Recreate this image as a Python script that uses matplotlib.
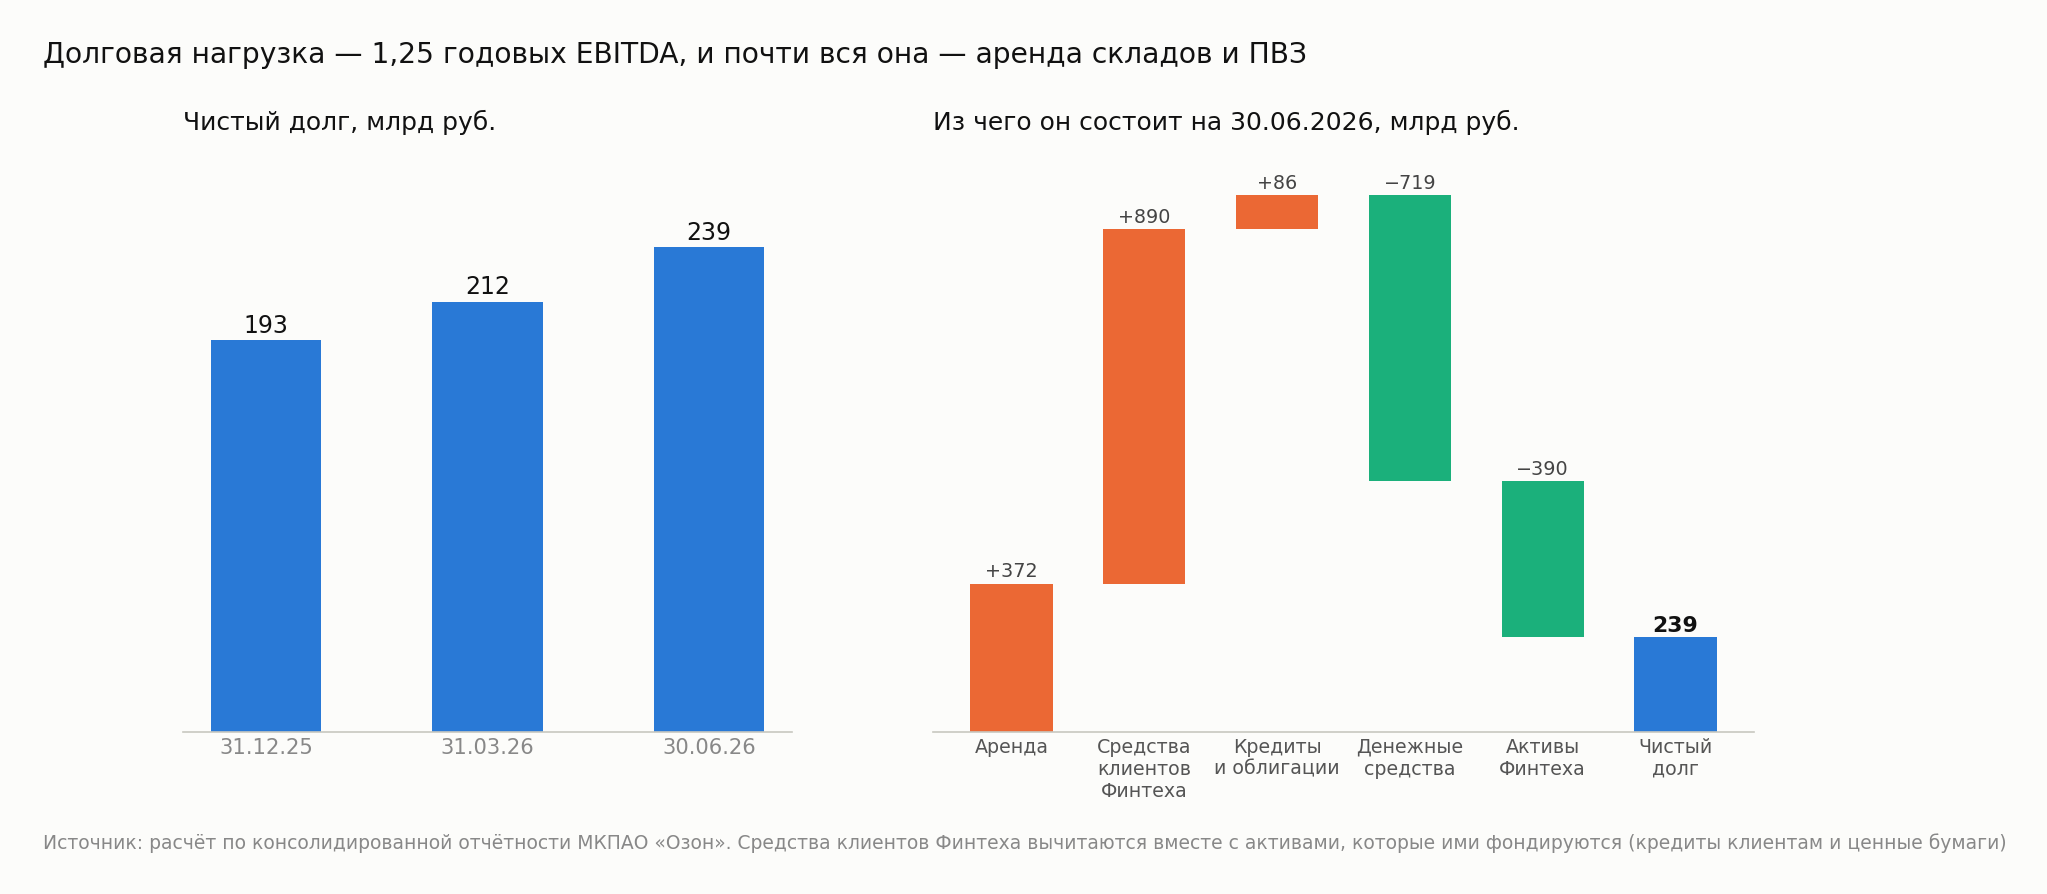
import numpy as np
import matplotlib
matplotlib.use('Agg')
import matplotlib.pyplot as plt

# --- data -------------------------------------------------------------------
TITLE = 'Долговая нагрузка — 1,25 годовых EBITDA, и почти вся она — аренда складов и ПВЗ'
FOOTNOTE = ('Источник: расчёт по консолидированной отчётности МКПАО «Озон». Средства клиентов '
            'Финтеха вычитаются вместе с активами, которые ими фондируются (кредиты клиентам и ценные бумаги)')

debt_dates = ['31.12.25', '31.03.26', '30.06.26']
debt_values = [193, 212, 239]

wf_labels = ['Аренда', 'Средства\nклиентов\nФинтеха', 'Кредиты\nи облигации',
             'Денежные\nсредства', 'Активы\nФинтеха', 'Чистый\nдолг']
wf_deltas = [372, 890, 86, -719, -390]
wf_total = 239

BLUE = '#2979d6'
ORANGE = '#eb6834'
GREEN = '#1bb07b'
BG = '#fcfcfa'
SPINE = '#c8c8c0'

plt.rcParams['font.family'] = ['DejaVu Sans']

DPI = 120
W, H = 2047, 894
fig = plt.figure(figsize=(W / DPI, H / DPI), dpi=DPI, facecolor=BG)


def px_axes(x0, x1, top, bottom):
    return fig.add_axes([x0 / W, 1 - bottom / H, (x1 - x0) / W, (bottom - top) / H])


def clean(ax):
    ax.set_facecolor(BG)
    for s in ['top', 'right', 'left']:
        ax.spines[s].set_visible(False)
    ax.spines['bottom'].set_color(SPINE)
    ax.spines['bottom'].set_linewidth(1.0)
    ax.set_yticks([])
    ax.tick_params(axis='x', length=0, pad=3.5)


# --- left: net debt by quarter ---------------------------------------------
ax1 = px_axes(183, 792, 160, 731.7)
clean(ax1)
x = np.arange(len(debt_values))
bars = ax1.bar(x, debt_values, width=0.5, color=BLUE)
ax1.set_ylim(0, 282)
ax1.set_xticks(x, debt_dates)
ax1.tick_params(axis='x', labelsize=12.7, labelcolor='#888888')
for b, v in zip(bars, debt_values):
    ax1.annotate(f'{v}', (b.get_x() + b.get_width() / 2, v), xytext=(0, 1.5),
                 textcoords='offset points', ha='center', va='bottom',
                 fontsize=14.2, color='#111111')
ax1.set_title('Чистый долг, млрд руб.', loc='left', fontsize=15, pad=18, color='#111111')

# --- right: waterfall -------------------------------------------------------
ax2 = px_axes(933, 1754, 160, 731.7)
clean(ax2)
levels = np.concatenate([[0], np.cumsum(wf_deltas)])
bottoms = list(np.minimum(levels[:-1], levels[1:])) + [0]
heights = list(np.abs(wf_deltas)) + [wf_total]
colors = [ORANGE if d > 0 else GREEN for d in wf_deltas] + [BLUE]
xw = np.arange(len(wf_labels))
wbars = ax2.bar(xw, heights, bottom=bottoms, width=0.62, color=colors)
ax2.set_ylim(0, 1436)
ax2.set_xticks(xw, wf_labels)
ax2.tick_params(axis='x', labelsize=11.4, labelcolor='#555555')

for i, b in enumerate(wbars):
    top = b.get_y() + b.get_height()
    xc = b.get_x() + b.get_width() / 2
    if i < len(wf_deltas):
        d = wf_deltas[i]
        txt = f'+{d}' if d > 0 else f'\u2212{abs(d)}'
        ax2.annotate(txt, (xc, top), xytext=(0, 1.5), textcoords='offset points',
                     ha='center', va='bottom', fontsize=11.5, color='#444444')
    else:
        ax2.annotate(f'{wf_total}', (xc, top), xytext=(0, 0.5), textcoords='offset points',
                     ha='center', va='bottom', fontsize=13.2, fontweight='bold', color='#111111')
ax2.set_title('Из чего он состоит на 30.06.2026, млрд руб.', loc='left', fontsize=15, pad=18,
              color='#111111')

# --- titles -----------------------------------------------------------------
fig.text(43 / W, 1 - 63.3 / H, TITLE, fontsize=16.9, va='baseline', ha='left', color='#111111')
fig.text(43 / W, 1 - 849.3 / H, FOOTNOTE, fontsize=11.25, va='baseline', ha='left', color='#888888')

fig.savefig('out.png', dpi=DPI, facecolor=BG)
